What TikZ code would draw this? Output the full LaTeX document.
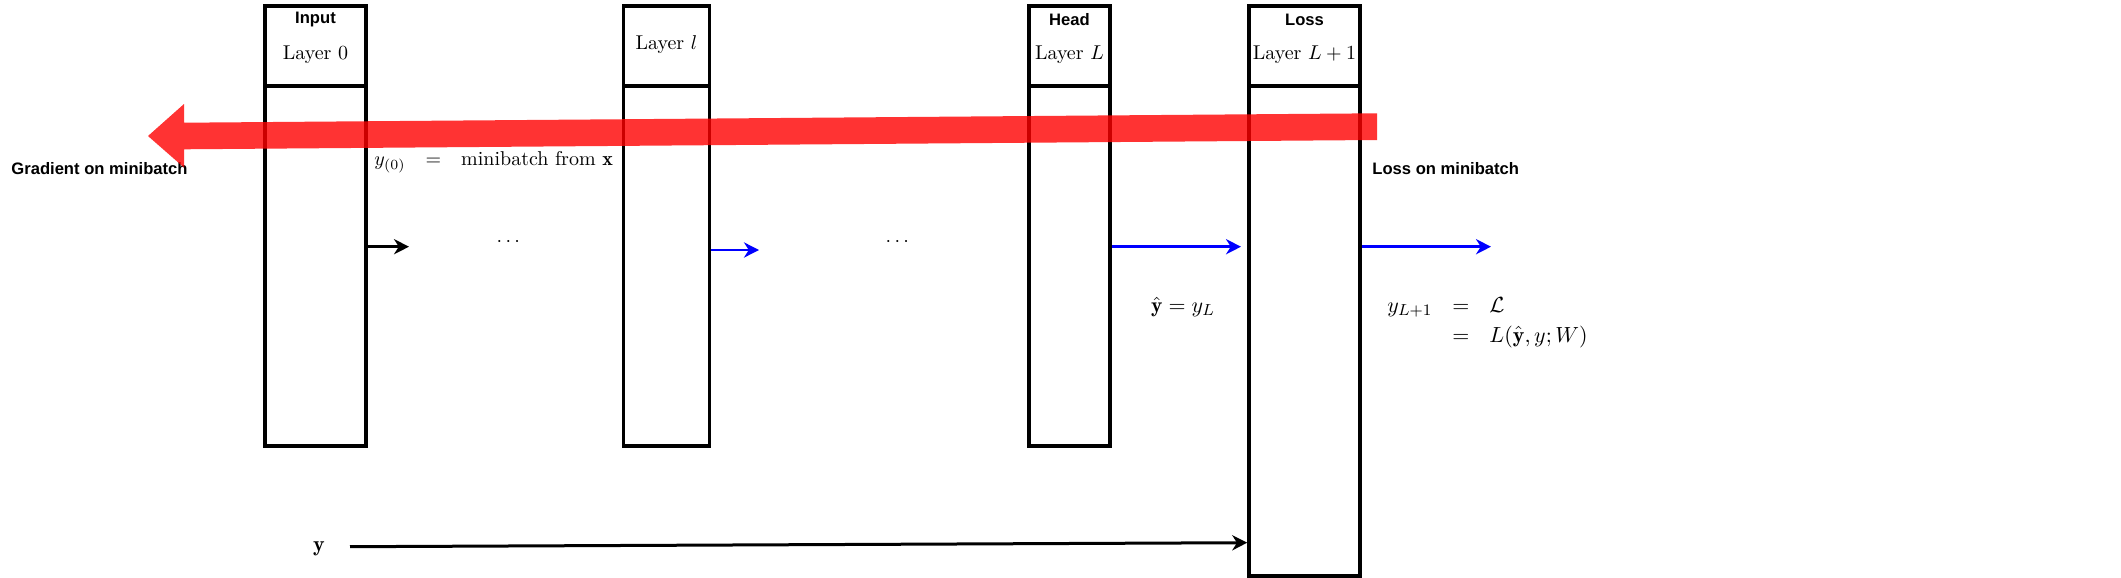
\documentclass[tikz,border=0pt]{standalone}
\usepackage{fontspec}
\usepackage{amsmath}
\newfontfamily\hv{Liberation Sans}
\usetikzlibrary{arrows.meta}
\begin{document}
\begin{tikzpicture}[x=0.5pt,y=-0.5pt,
  box/.style={draw=black, line width=1.8pt, inner sep=0pt},
  tag/.style={font=\hv\fontsize{8.3}{9.8}\selectfont\bfseries, inner sep=0pt},
  lbl/.style={font=\fontsize{10}{12}\selectfont, inner sep=0pt},
  flow/.style={line width=1.3pt, -{Stealth[length=7.5pt,width=7.6pt,inset=2.4pt]}},
]
\useasboundingbox (0,0) rectangle (2121,578);

% layer boxes
\node[box, minimum width=50.5pt, minimum height=40pt] (h1) at (315.5,46) {};
\node[box, minimum width=50.5pt, minimum height=180pt] (b1) at (315.5,266) {};
\node[box, minimum width=43pt, minimum height=40pt] (h2) at (666.5,46) {};
\node[box, minimum width=43pt, minimum height=180pt] (b2) at (666.5,266) {};
\node[box, minimum width=40.5pt, minimum height=40pt] (h3) at (1069.5,46) {};
\node[box, minimum width=40.5pt, minimum height=180pt] (b3) at (1069.5,266) {};
\node[box, minimum width=55.5pt, minimum height=40pt] (h4) at (1304.5,46) {};
\node[box, minimum width=55.5pt, minimum height=245pt] (b4) at (1304.5,331) {};

% header texts
\node[tag] (t1) at (315.5,20) {Input};
\node[lbl] (l1) at (315.5,55) {Layer $0$};
\node[lbl] (l2) at (666.5,45) {Layer $l$};
\node[tag] (t3) at (1069.5,20) {Head};
\node[lbl] (l3) at (1069.5,55) {Layer $L$};
\node[tag] (t4) at (1304.5,20) {Loss};
\node[lbl] (l4) at (1304.5,55) {Layer $L+1$};

% other labels
\node[tag, anchor=west] (grad) at (11,169) {Gradient on minibatch};
\node[tag, anchor=west] (lossmb) at (1372,169) {Loss on minibatch};
\node[lbl, anchor=west] (eq1) at (374,161) {$\begin{array}{@{}rcl@{}} y_{(0)} & = & \text{minibatch from }\mathbf{x}\end{array}$};
\node[lbl, font=\fontsize{11}{13}\selectfont, anchor=west] (eq2) at (1387,322) {$\begin{array}{@{}rcl@{}} y_{L+1} & = & \mathcal{L}\\[2pt] & = & L(\hat{\mathbf{y}},y;W)\end{array}$};
\node[lbl, font=\fontsize{10.8}{13}\selectfont] (yhat) at (1183,307) {$\hat{\mathbf{y}} = y_L$};
\node[lbl] (d1) at (510,242) {$\cdots$};
\node[lbl] (d2) at (899,242) {$\cdots$};
\node[lbl, font=\fontsize{11}{13}\selectfont] (yv) at (319,549) {$\mathbf{y}$};

% forward arrows
\coordinate (e1) at (409,246.7);
\draw[flow] (b1.east |- e1) -- (e1);
\coordinate (e2) at (759,250);
\draw[flow, blue] (b2.east |- e2) -- (e2);
\coordinate (e3) at (1241,246.7);
\draw[flow, blue] (b3.east |- e3) -- (e3);
\coordinate (e4) at (1491,246.7);
\draw[flow, blue] (b4.east |- e4) -- (e4);
\coordinate (ys) at (350,546.7);
\coordinate (ye) at (1248,542.7);
\draw[flow, line width=1.5pt] (ys) -- (b4.west |- ye);

% backward gradient arrow
\fill[red, opacity=0.8] (1377,113.3) -- (184,122.7) -- (184,104) -- (148,136) -- (184,167.5) -- (184,149.3) -- (1377,140) -- cycle;
\end{tikzpicture}
\end{document}
